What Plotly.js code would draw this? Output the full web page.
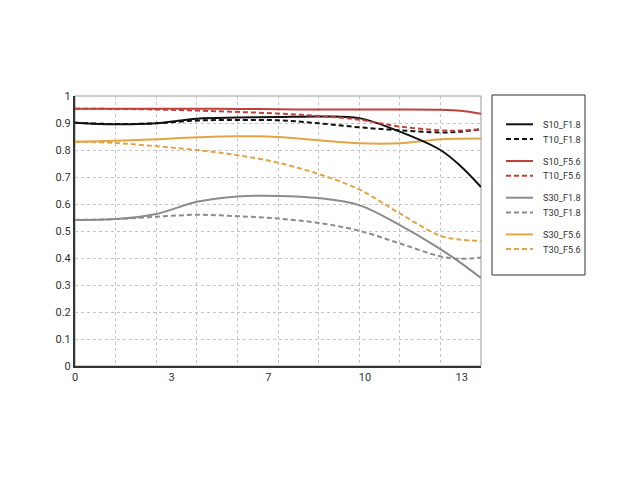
<!DOCTYPE html>
<html>
<head>
<meta charset="utf-8">
<script src="https://cdn.plot.ly/plotly-3.0.1.min.js"></script>
<style>
  html, body { margin: 0; padding: 0; background: #fff; }
  #chart { width: 640px; height: 480px; }
</style>
</head>
<body>
<div id="chart"></div>
<script>
// Image height (mm) sampled along the axis
const xPos = [0, 1.4, 2.8, 4.2, 5.6, 7, 8.4, 9.8, 11.2, 12.6, 13.3, 14];

const s10F18 = [0.901, 0.895, 0.899, 0.916, 0.920, 0.922, 0.924, 0.918, 0.868, 0.800, 0.740, 0.663];
const t10F18 = [0.901, 0.896, 0.899, 0.909, 0.911, 0.910, 0.899, 0.884, 0.873, 0.865, 0.868, 0.877];
const s10F56 = [0.953, 0.953, 0.953, 0.953, 0.952, 0.951, 0.950, 0.950, 0.950, 0.949, 0.945, 0.934];
const t10F56 = [0.953, 0.952, 0.950, 0.946, 0.941, 0.935, 0.926, 0.912, 0.887, 0.873, 0.872, 0.877];
const s30F18 = [0.541, 0.544, 0.563, 0.608, 0.628, 0.630, 0.622, 0.596, 0.522, 0.433, 0.382, 0.326];
const t30F18 = [0.541, 0.544, 0.553, 0.560, 0.555, 0.546, 0.530, 0.501, 0.454, 0.406, 0.397, 0.402];
const s30F56 = [0.831, 0.834, 0.840, 0.847, 0.851, 0.848, 0.836, 0.825, 0.825, 0.840, 0.842, 0.843];
const t30F56 = [0.831, 0.826, 0.814, 0.800, 0.781, 0.753, 0.711, 0.654, 0.565, 0.482, 0.468, 0.463];

const seriesNames = ['S10_F1.8', 'T10_F1.8', 'S10_F5.6', 'T10_F5.6', 'S30_F1.8', 'T30_F1.8', 'S30_F5.6', 'T30_F5.6'];
const seriesData = [s10F18, t10F18, s10F56, t10F56, s30F18, t30F18, s30F56, t30F56];

const xTickVals = [0, 10 / 3, 20 / 3, 10, 40 / 3];
const xTickText = ['0', '3', '7', '10', '13'];

const colors = ['#111111', '#111111', '#c0403c', '#c0403c', '#8c8c8c', '#8c8c8c', '#e2a546', '#e2a546'];
const dashes = ['solid', '5px,3px', 'solid', '5px,3px', 'solid', '5px,3px', 'solid', '5px,3px'];

// plot area in pixels, used to place the hand-made legend
const plotL = 75, plotR = 481, plotT = 96, plotB = 366;
const px = v => (v - plotL) / (plotR - plotL);
const py = v => (plotB - v) / (plotB - plotT);

const traces = seriesData.map((ys, i) => ({
  x: xPos,
  y: ys,
  mode: 'lines',
  name: seriesNames[i],
  line: { color: colors[i], width: 2, dash: dashes[i], shape: 'spline', smoothing: 1 },
  hoverinfo: 'x+y+name'
}));

// order: grey, orange, black, red on top
const drawOrder = [4, 5, 6, 7, 1, 0, 3, 2];
const orderedTraces = drawOrder.map(i => traces[i]);

const shapes = [
  {
    type: 'rect', xref: 'paper', yref: 'paper', x0: 0, x1: 1, y0: 0, y1: 1,
    line: { color: '#999', width: 1 }, layer: 'below'
  },
  {
    type: 'rect', xref: 'paper', yref: 'paper',
    x0: px(492), x1: px(585), y0: py(275), y1: py(95),
    line: { color: '#333', width: 1 }
  }
];
const annotations = [];

seriesNames.forEach((name, i) => {
  const rowY = 124.3 + i * 14.7 + Math.floor(i / 2) * 7.3;
  shapes.push({
    type: 'line', xref: 'paper', yref: 'paper',
    x0: px(506), x1: px(533), y0: py(rowY), y1: py(rowY),
    line: { color: colors[i], width: 2, dash: dashes[i] }
  });
  annotations.push({
    xref: 'paper', yref: 'paper', x: px(541), y: py(rowY),
    xanchor: 'left', yanchor: 'middle', showarrow: false,
    text: name, font: { size: 9.2, color: '#333' }
  });
});

const layout = {
  width: 640,
  height: 480,
  font: { family: 'Roboto, sans-serif', size: 11, color: '#333' },
  paper_bgcolor: '#fff',
  plot_bgcolor: '#fff',
  margin: { l: plotL, r: 640 - plotR, t: plotT, b: 480 - plotB },
  showlegend: false,
  xaxis: {
    range: [0, 14],
    tickmode: 'array',
    tickvals: xTickVals,
    ticktext: xTickText,
    showgrid: false,
    zeroline: false,
    showline: true,
    linecolor: '#333',
    linewidth: 2,
    ticks: '',
    minor: { tickmode: 'linear', tick0: 0, dtick: 1.4, showgrid: true, gridcolor: '#c4c4c4', griddash: 'dot', gridwidth: 1, ticks: '' }
  },
  yaxis: {
    range: [0, 1],
    dtick: 0.1,
    showgrid: true,
    gridcolor: '#c4c4c4',
    griddash: 'dot',
    gridwidth: 1,
    zeroline: false,
    showline: true,
    linecolor: '#333',
    linewidth: 2,
    ticks: ''
  },
  shapes,
  annotations
};

Plotly.newPlot('chart', orderedTraces, layout, { displayModeBar: false, staticPlot: true });
</script>
</body>
</html>
